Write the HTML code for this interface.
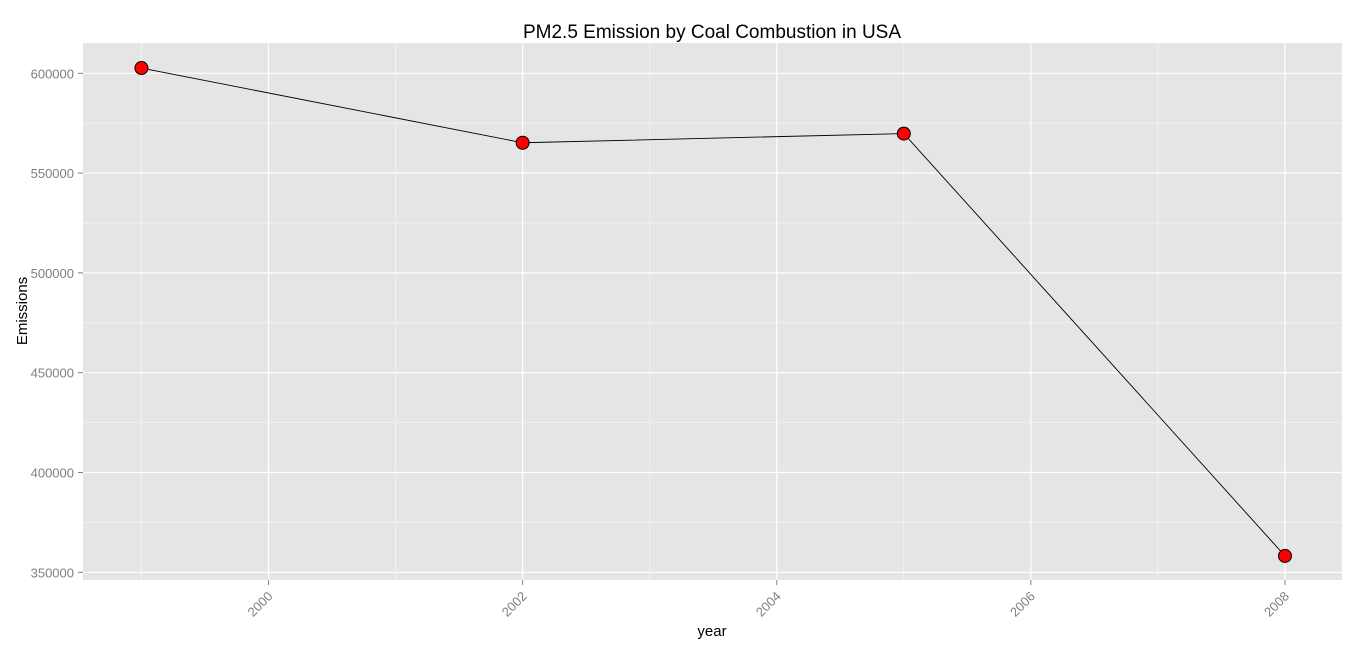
<!DOCTYPE html>
<html><head><meta charset="utf-8"><style>
html,body{margin:0;padding:0;background:#fff;}
svg{display:block;font-family:"Liberation Sans",Arial,sans-serif;}
</style></head><body>
<svg id="chart" width="1362" height="650">
<rect x="83" y="43" width="1259" height="537" fill="#e5e5e5"/>
<g id="grid"></g><g id="axes"></g><g id="marks"></g>
<text x="712" y="38" text-anchor="middle" font-size="19" fill="#000">PM2.5 Emission by Coal Combustion in USA</text>
<text x="712" y="636" text-anchor="middle" font-size="15" fill="#000">year</text>
<text transform="translate(27,311) rotate(-90)" text-anchor="middle" font-size="15" fill="#000">Emissions</text>
</svg>
<script>
const years = [1999, 2002, 2005, 2008];
const emissions = [602624, 565200, 569800, 358200];
const xTicks = [2000, 2002, 2004, 2006, 2008];
const yTicks = [350000, 400000, 450000, 500000, 550000, 600000];
const NS = "http://www.w3.org/2000/svg";
const x = v => 268.5 + (v - 2000) * 127.06;
const y = v => 73.3 + (600000 - v) * 0.001996;
function mk(tag, attrs, parent){const e=document.createElementNS(NS,tag);for(const k in attrs)e.setAttribute(k,attrs[k]);parent.appendChild(e);return e;}
const grid=document.getElementById('grid'), axes=document.getElementById('axes'), marks=document.getElementById('marks');
for(let i=0;i<xTicks.length;i++){const m=xTicks[i]-1;const gl=mk('line',{x1:x(m),x2:x(m),y1:43,y2:580,stroke:'#f2f2f2','stroke-width':1},grid);

}
for(let i=0;i<yTicks.length-1;i++){const m=(yTicks[i]+yTicks[i+1])/2;const gl=mk('line',{x1:83,x2:1342,y1:y(m),y2:y(m),stroke:'#f2f2f2','stroke-width':1},grid);

}
xTicks.forEach(t=>{const gl=mk('line',{x1:x(t),x2:x(t),y1:43,y2:580,stroke:'#fff','stroke-width':1.2},grid);


const tk=mk('line',{x1:x(t),x2:x(t),y1:580,y2:585,stroke:'#7f7f7f'},axes);


const tx=mk('text',{transform:`translate(${x(t)+5},${597}) rotate(-45)`,'text-anchor':'end','font-size':13,fill:'#7f7f7f'},axes);tx.textContent=t;

});
yTicks.forEach(t=>{const gl=mk('line',{x1:83,x2:1342,y1:y(t),y2:y(t),stroke:'#fff','stroke-width':1.2},grid);


const tk=mk('line',{x1:78,x2:83,y1:y(t),y2:y(t),stroke:'#7f7f7f'},axes);


const tx=mk('text',{x:74,y:y(t)+5,'text-anchor':'end','font-size':13,fill:'#7f7f7f'},axes);tx.textContent=t;

});
const pts=years.map((yr,i)=>x(yr)+','+y(emissions[i])).join(' ');
const line=mk('polyline',{points:pts,fill:'none',stroke:'#000','stroke-width':0.9},marks);


years.forEach((yr,i)=>{const c=mk('circle',{cx:x(yr),cy:y(emissions[i]),r:6.5,fill:'#ff0000',stroke:'#000','stroke-width':1},marks);

});
</script>
</body></html>
